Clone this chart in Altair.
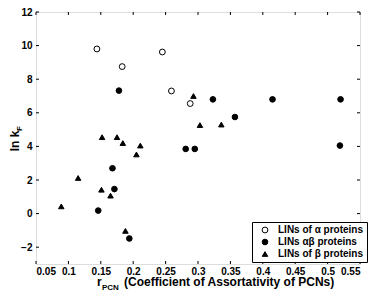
import altair as alt
import pandas as pd

# ---- data ----
groups = ["LINs of α proteins", "LINs αβ proteins", "LINs of β proteins"]

alpha_r = [0.144, 0.183, 0.245, 0.259, 0.288]
alpha_k = [9.80, 8.75, 9.62, 7.30, 6.55]

ab_r = [0.178, 0.323, 0.357, 0.415, 0.520, 0.519, 0.281, 0.295, 0.168, 0.171, 0.146, 0.194]
ab_k = [7.32, 6.80, 5.75, 6.80, 6.80, 4.05, 3.85, 3.85, 2.70, 1.46, 0.18, -1.48]

beta_r = [0.152, 0.175, 0.184, 0.211, 0.293, 0.303, 0.336, 0.205, 0.115, 0.151, 0.165, 0.089, 0.188]
beta_k = [4.55, 4.55, 4.20, 4.05, 7.00, 5.27, 5.30, 3.52, 2.12, 1.42, 1.07, 0.43, -1.03]

x_ticks = [0.05, 0.1, 0.15, 0.2, 0.25, 0.3, 0.35, 0.4, 0.45, 0.5, 0.55]
y_ticks = [-2, 0, 2, 4, 6, 8, 10, 12]

rows = []
for g, rs, ks in zip(groups, [alpha_r, ab_r, beta_r], [alpha_k, ab_k, beta_k]):
    for r, k in zip(rs, ks):
        rows.append({"r": r, "k": k, "group": g})
df = pd.DataFrame(rows)

W, H = 324, 252
FONT = "'Liberation Sans Narrow', 'Liberation Sans', Arial, sans-serif"

xscale = alt.Scale(domain=[0.05, 0.55], nice=False, zero=False)
yscale = alt.Scale(domain=[-3, 12], nice=False, zero=False)

xaxis = alt.Axis(values=x_ticks, format=".2~f", title=None, domain=False, ticks=False,
                 grid=False, labelPadding=2, labelFont=FONT, labelFontSize=10,
                 labelFontWeight="bold", labelColor="black")
yaxis = alt.Axis(values=y_ticks, title=None, domain=False, ticks=False, grid=False,
                 labelPadding=4, labelFont=FONT, labelFontSize=10,
                 labelFontWeight="bold", labelColor="black")

legend = alt.Legend(
    title=None, orient="none", legendX=216, legendY=210,
    strokeColor="black", fillColor="white", padding=3, cornerRadius=0,
    labelFont=FONT, labelFontSize=10, labelFontWeight="bold", labelColor="black",
    symbolStrokeColor="black", symbolStrokeWidth=1, rowPadding=2, labelOffset=8,
    symbolOffset=5,
)

points = alt.Chart(df).mark_point(stroke="black", strokeWidth=1, opacity=1, fillOpacity=1).encode(
    x=alt.X("r:Q", scale=xscale, axis=xaxis),
    y=alt.Y("k:Q", scale=yscale, axis=yaxis),
    fill=alt.Fill("group:N", scale=alt.Scale(domain=groups, range=["white", "black", "black"]), legend=legend),
    stroke=alt.Stroke("group:N", scale=alt.Scale(domain=groups, range=["black", "black", "black"]), legend=legend),
    shape=alt.Shape("group:N", scale=alt.Scale(domain=groups, range=["circle", "circle", "triangle-up"]), legend=legend),
    size=alt.Size("group:N", scale=alt.Scale(domain=groups, range=[34, 30, 48]), legend=legend),
)

xt = pd.DataFrame({"t": x_ticks})
yt = pd.DataFrame({"t": y_ticks})
tick_style = dict(color="black", strokeWidth=1)
bx = alt.Chart(xt).mark_rule(**tick_style).encode(x=alt.X("t:Q", scale=xscale, axis=xaxis), y=alt.value(H), y2=alt.value(H - 3))
tx = alt.Chart(xt).mark_rule(**tick_style).encode(x=alt.X("t:Q", scale=xscale, axis=xaxis), y=alt.value(0), y2=alt.value(3))
ly = alt.Chart(yt).mark_rule(**tick_style).encode(y=alt.Y("t:Q", scale=yscale, axis=yaxis), x=alt.value(0), x2=alt.value(3))
ry = alt.Chart(yt).mark_rule(**tick_style).encode(y=alt.Y("t:Q", scale=yscale, axis=yaxis), x=alt.value(W), x2=alt.value(W - 3))

one = pd.DataFrame({"a": [0]})
tfont = dict(font=FONT, fontWeight="bold", color="black")
ytitle = alt.Chart(one).mark_text(text="ln k", angle=270, align="center", baseline="alphabetic", fontSize=12, **tfont).encode(
    x=alt.value(-17), y=alt.value(129))
ysub = alt.Chart(one).mark_text(text="F", angle=270, align="left", baseline="alphabetic", fontSize=8, **tfont).encode(
    x=alt.value(-14), y=alt.value(119))
xr = alt.Chart(one).mark_text(text="r", align="left", baseline="alphabetic", fontSize=12, **tfont).encode(
    x=alt.value(61), y=alt.value(274))
xsub = alt.Chart(one).mark_text(text="PCN", align="left", baseline="alphabetic", fontSize=8, **tfont).encode(
    x=alt.value(66), y=alt.value(277.5))
xmain = alt.Chart(one).mark_text(text="(Coefficient of Assortativity of PCNs)", align="left", baseline="alphabetic",
                                 fontSize=12, **tfont).encode(x=alt.value(88), y=alt.value(274))

chart = alt.layer(points, bx, tx, ly, ry, ytitle, ysub, xr, xsub, xmain).properties(
    width=W, height=H,
    autosize=alt.AutoSizeParams(type="none"),
    padding={"left": 28, "top": 4, "right": 8, "bottom": 26},
).configure_view(stroke="black", strokeWidth=1).configure(background="white")

chart.save("out.html", embed_options={"renderer": "svg", "actions": False})
